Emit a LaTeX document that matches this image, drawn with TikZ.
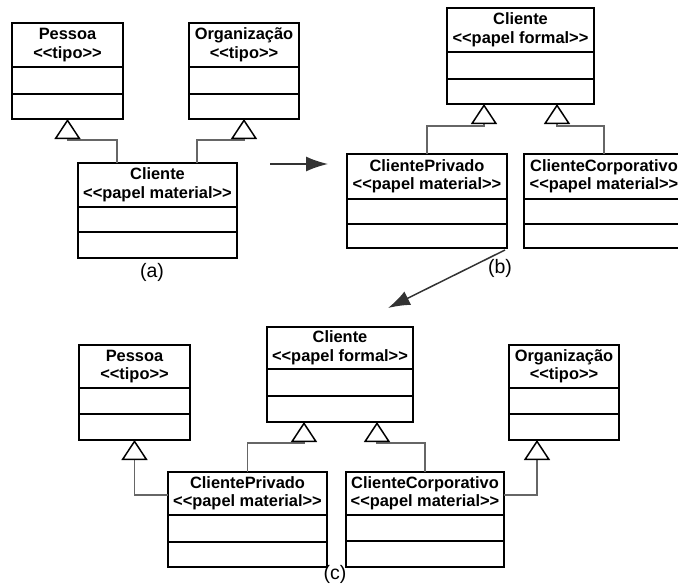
\documentclass[tikz,border=0pt]{standalone}
\usepackage{fontspec}
\newfontfamily\umlfont{Liberation Sans}
\usetikzlibrary{arrows.meta}
\tikzset{
  clsbox/.style={draw=black, line width=1.6pt, rectangle, inner sep=0pt, outer sep=0pt, anchor=north west},
  clsline/.style={draw=black, line width=1.6pt},
  clstext/.style={align=center, inner sep=0pt, font=\umlfont\bfseries\fontsize{16.4}{18.5}\selectfont},
  lbl/.style={inner sep=0pt, font=\umlfont\fontsize{19.5}{22}\selectfont},
  gen/.style={draw=black!60, line width=1.3pt, -{Triangle[length=20pt, width=26pt, line width=1.5pt, color=black, fill=white]}},
  flow/.style={draw=black!80, line width=1.5pt, -{Latex[length=22pt, width=15pt]}}
}
\newcommand\umlclass[8]{%
  \pgfmathsetmacro\clsW{#4-#2}%
  \pgfmathsetmacro\clsH{#5-#3}%
  \node[clsbox, minimum width=\clsW pt, minimum height=\clsH pt] (#1) at (#2,#3) {};
  \draw[clsline] (#2,#6) -- (#4,#6);
  \draw[clsline] (#2,#7) -- (#4,#7);
  \node[clstext] (#1t) at ({(#2+#4)/2},{(#3+#6)/2}) {#8};
}
\begin{document}
\begin{tikzpicture}[x=1pt,y=-1pt]
\useasboundingbox (0,0) rectangle (678,586);
\clip (0,0) rectangle (678,586);
% panel (a)
\umlclass{P1}{12}{23}{123}{119}{67}{94}{Pessoa\\<<tipo>>}
\umlclass{O1}{189}{23}{299}{119}{67}{94}{Organização\\<<tipo>>}
\umlclass{C1}{78}{163}{237}{258}{207}{232}{Cliente\\<<papel material>>}
\draw[gen] ([xshift=39pt]C1.north west) |- ([yshift=-21pt]P1.south) -- (P1.south);
\draw[gen] ([xshift=-40pt]C1.north east) |- ([yshift=-21pt]O1.south) -- (O1.south);
\node[lbl] (la) at (152,272) {(a)};
\coordinate (a1) at (270,164);
\coordinate (a2) at (328,164);
\draw[flow] (a1) -- (a2);
% panel (b)
\umlclass{C2}{447}{8}{594}{104}{52}{79}{Cliente\\<<papel formal>>}
\umlclass{CP2}{347}{154}{507}{248}{199}{224}{ClientePrivado\\<<papel material>>}
\umlclass{CC2}{524}{154}{684}{248}{199}{224}{ClienteCorporativo\\<<papel material>>}
\draw[gen] (CP2.north) |- ([xshift=-36.5pt,yshift=-22pt]C2.south) -- ([xshift=-36.5pt]C2.south);
\draw[gen] (CC2.north) |- ([xshift=36.5pt,yshift=-22pt]C2.south) -- ([xshift=36.5pt]C2.south);
\node[lbl] (lb) at (500,268) {(b)};
\coordinate (b2) at (388,308);
\draw[flow] ([xshift=-2pt,yshift=-2pt]CP2.south east) -- (b2);
% panel (c)
\umlclass{P3}{79}{345}{190}{440}{388}{414}{Pessoa\\<<tipo>>}
\umlclass{C3}{267}{327}{413}{422}{369}{396}{Cliente\\<<papel formal>>}
\umlclass{O3}{509}{345}{619}{440}{388}{414}{Organização\\<<tipo>>}
\umlclass{CP3}{168}{472}{327}{567}{515}{542}{ClientePrivado\\<<papel material>>}
\umlclass{CC3}{346}{472}{504}{567}{515}{541}{ClienteCorporativo\\<<papel material>>}
\draw[gen] (CP3.north) |- ([xshift=-36pt,yshift=-21pt]C3.south) -- ([xshift=-36pt]C3.south);
\draw[gen] (CC3.north) |- ([xshift=37pt,yshift=-21pt]C3.south) -- ([xshift=37pt]C3.south);
\draw[gen] ([yshift=-23pt]CP3.north west) -| (P3.south);
\draw[gen] ([yshift=-23pt]CC3.north east) -| ([xshift=-27pt]O3.south);
\node[lbl] (lc) at (335,574) {(c)};
\end{tikzpicture}
\end{document}
